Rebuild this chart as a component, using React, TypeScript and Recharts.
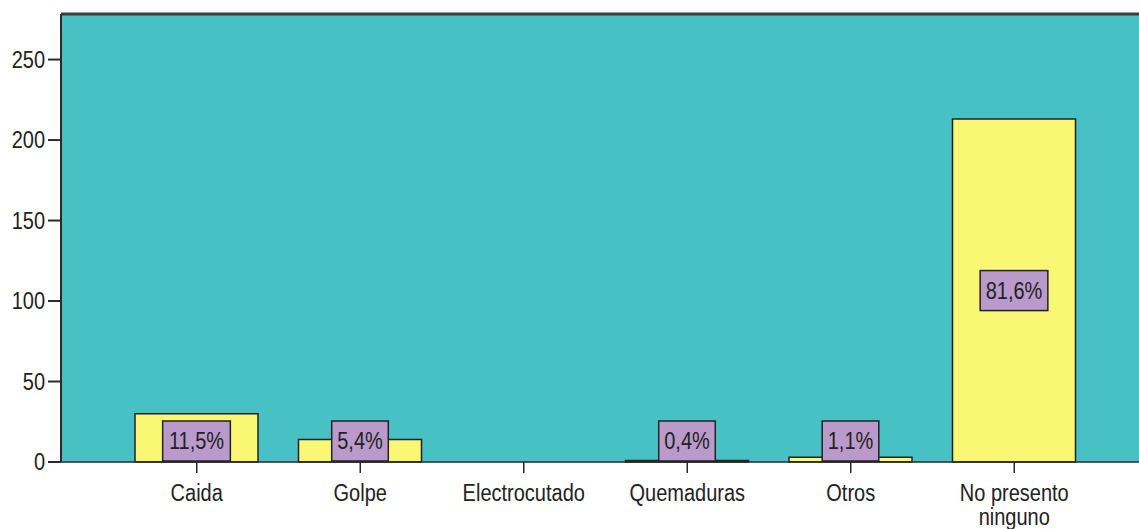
import React from 'react';
import { BarChart, Bar, XAxis, YAxis, CartesianGrid, ReferenceLine, LabelList } from 'recharts';

const categories = ['Caida', 'Golpe', 'Electrocutado', 'Quemaduras', 'Otros', 'No presento ninguno'];
const counts = [30, 14, 0, 1, 3, 213];
const yTicks = [0, 50, 100, 150, 200, 250];
const yMax = 278.3;

const total = counts.reduce((a, b) => a + b, 0);
const data = categories.map((name, i) => ({
  name,
  count: counts[i],
  pct: counts[i] > 0 ? ((counts[i] / total) * 100).toFixed(1).replace('.', ',') + '%' : '',
}));

const FONT = '"Liberation Sans", Arial, sans-serif';
const TEAL = '#48c1c5';
const YELLOW = '#faf774';
const PURPLE = '#b99acb';
const INK = '#222222';
const STRETCH = 'scale(1,1.15)'; // the source text is a bit taller than Arial

// rough Arial widths, enough to size the label boxes
const charW = (c: string) => (c === ',' || c === '.' ? 0.278 : c === '%' ? 0.889 : 0.556);
const textWidth = (s: string, size: number) => s.split('').reduce((w, c) => w + charW(c) * size, 0);

const PctLabel = (props: any) => {
  const { x, y, width, height, value } = props;
  if (!value) return null;
  const cx = x + width / 2;
  // short bars get the box sitting on the axis, tall ones get it centred
  const cy = height > 80 ? y + height / 2 : y + height - 21;
  const bw = textWidth(String(value), 20) + 11;
  return (
    <g>
      <rect x={cx - bw / 2} y={cy - 20} width={bw} height={40} fill={PURPLE} stroke={INK} strokeWidth={1.5} />
      <g transform={`translate(${cx},${cy}) ${STRETCH}`}>
        <text x={0} y={0} dy="0.36em" textAnchor="middle" fontSize={20} fontFamily={FONT} fill={INK}>
          {value}
        </text>
      </g>
    </g>
  );
};

const CatTick = (props: any) => {
  const { x, y, payload } = props;
  const label: string = payload.value;
  let lines = [label];
  if (label.length > 14 && label.includes(' ')) {
    const cut = label.lastIndexOf(' ');
    lines = [label.slice(0, cut), label.slice(cut + 1)];
  }
  return (
    <g transform={`translate(${x},${y}) ${STRETCH}`}>
      <text x={0} y={0} textAnchor="middle" fontSize={20} fontFamily={FONT} fill={INK}>
        {lines.map((l, i) => (
          <tspan key={i} x={0} dy={i === 0 ? '0.71em' : 21}>
            {l}
          </tspan>
        ))}
      </text>
    </g>
  );
};

const ValTick = (props: any) => {
  const { x, y, payload } = props;
  return (
    <g transform={`translate(${x},${y}) ${STRETCH}`}>
      <text x={0} y={0} dy="0.36em" textAnchor="end" fontSize={20} fontFamily={FONT} fill={INK}>
        {payload.value}
      </text>
    </g>
  );
};

export default function App() {
  return (
    <div style={{ position: 'absolute', top: 0, left: 0, width: 1139, height: 529, background: '#fff' }}>
      <BarChart width={1139} height={529} data={data} margin={{ top: 14, right: 0, bottom: 0, left: 0 }} barSize={123}>
        <CartesianGrid horizontal={false} vertical={false} fill={TEAL} stroke="none" />
        <XAxis
          dataKey="name"
          height={67}
          padding={{ left: 54, right: 43 }}
          tickSize={11}
          tickMargin={12}
          axisLine={{ stroke: '#2a2a2a', strokeWidth: 1.5 }}
          tickLine={{ stroke: '#2a2a2a', strokeWidth: 1.5 }}
          tick={<CatTick />}
          interval={0}
        />
        <YAxis
          width={61}
          domain={[0, yMax]}
          ticks={yTicks}
          tickSize={13}
          tickMargin={3}
          axisLine={{ stroke: '#2a2a2a', strokeWidth: 2 }}
          tickLine={{ stroke: '#2a2a2a', strokeWidth: 2 }}
          tick={<ValTick />}
        />
        <ReferenceLine y={yMax} stroke="#3c3c3c" strokeWidth={3} />
        <Bar dataKey="count" fill={YELLOW} stroke={INK} strokeWidth={1.5} isAnimationActive={false}>
          <LabelList dataKey="pct" content={<PctLabel />} />
        </Bar>
      </BarChart>
    </div>
  );
}
